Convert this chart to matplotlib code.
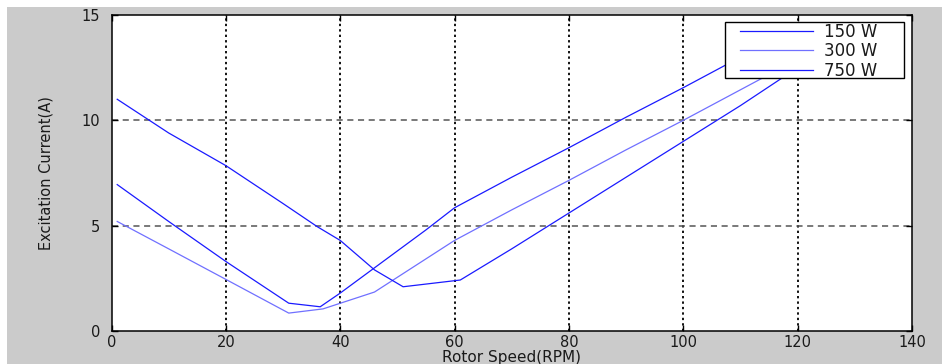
import matplotlib
matplotlib.use("Agg")
import matplotlib.pyplot as plt
from matplotlib.patches import Rectangle

# ---- data ----
x_150 = [1, 10, 20, 31, 36.5, 40, 46, 51, 55, 60, 70, 80, 90, 100, 110, 120]
y_150 = [6.95, 5.2, 3.3, 1.32, 1.15, 1.8, 3.0, 4.0, 4.8, 5.85, 7.3, 8.7, 10.15, 11.55, 13.0, 14.4]

x_300 = [1, 10, 20, 31, 37, 46, 60, 70, 80, 90, 100, 110, 120]
y_300 = [5.2, 3.9, 2.45, 0.85, 1.05, 1.85, 4.3, 5.75, 7.15, 8.6, 10.0, 11.45, 12.9]

x_750 = [1, 10, 20, 30, 36, 40, 46, 51, 61, 70, 80, 90, 100, 110, 120]
y_750 = [11.0, 9.4, 7.85, 6.05, 4.95, 4.3, 2.9, 2.1, 2.42, 3.9, 5.6, 7.3, 9.0, 10.7, 12.5]

labels = ["150 W", "300 W", "750 W"]
x_ticks = [0, 20, 40, 60, 80, 100, 120, 140]
y_ticks = [0, 5, 10, 15]

W, H = 942, 364
AX_L, AX_R, AX_T, AX_B = 111.5, 912, 15, 331
fig = plt.figure(figsize=(W / 100, H / 100), dpi=100, facecolor="white")
fig.patches.append(Rectangle((7 / W, 0), 1 - 7 / W, 1 - 7 / H, transform=fig.transFigure,
                             facecolor="#cbcbcb", edgecolor="none", zorder=-10))

ax = fig.add_axes([AX_L / W, (H - AX_B) / H, (AX_R - AX_L) / W, (AX_B - AX_T) / H])
ax.set_facecolor("white")


def px2ax(px, py):
    return (px - AX_L) / (AX_R - AX_L), (AX_B - py) / (AX_B - AX_T)


ax.plot(x_150, y_150, color="#1a1aff", lw=0.9, label=labels[0])
ax.plot(x_300, y_300, color="#7070ff", lw=0.9, label=labels[1])
ax.plot(x_750, y_750, color="#1a1aff", lw=0.9, label=labels[2])

ax.set_xlim(0, 140)
ax.set_ylim(0, 15)
ax.set_xticks(x_ticks)
ax.set_yticks(y_ticks)

for xv in x_ticks[1:-1]:
    ax.axvline(xv, color="#111111", lw=1.4, ls=(0, (1.2, 1.6)), zorder=0.5)
for yv in y_ticks[1:-1]:
    ax.axhline(yv, color="#555555", lw=1.1, ls=(0, (4, 3)), zorder=0.5)

for s in ax.spines.values():
    s.set_linewidth(1.1)
    s.set_color("black")

ax.tick_params(axis="both", direction="in", length=4, width=1, top=True, right=True,
               labelcolor="#1a1a1a", labelsize=10.5)
ax.tick_params(axis="x", pad=3)
ax.tick_params(axis="y", pad=8)
for lab in ax.get_xticklabels() + ax.get_yticklabels():
    lab.set_family("DejaVu Sans")

ax.set_xlabel("Rotor Speed(RPM)", family="DejaVu Sans", fontsize=11, color="#1a1a1a", labelpad=0)
ax.set_ylabel("Excitation Current(A)", family=["Liberation Sans Narrow", "DejaVu Sans"],
              fontsize=10.5, color="#1a1a1a", labelpad=20)

# legend frame (drawn as a box) and entries
x0, y1 = px2ax(725, 22)
x1, y0 = px2ax(904, 78)
ax.add_patch(Rectangle((x0, y0), x1 - x0, y1 - y0, transform=ax.transAxes, facecolor="white",
                       edgecolor="black", lw=1.0, zorder=4, clip_on=False))
fs = 12
fpx = fs * 100 / 72
lx, ly = px2ax(740, 23)
leg = ax.legend(loc="upper left", bbox_to_anchor=(lx, ly), borderaxespad=0,
                prop=dict(family="DejaVu Sans", size=fs), frameon=False,
                handlelength=73 / fpx, handletextpad=11 / fpx, labelspacing=0.08,
                borderpad=0)
leg.set_zorder(5)
for t in leg.get_texts():
    t.set_color("#1a1a1a")

fig.savefig("out.png", dpi=100, facecolor=fig.get_facecolor())
